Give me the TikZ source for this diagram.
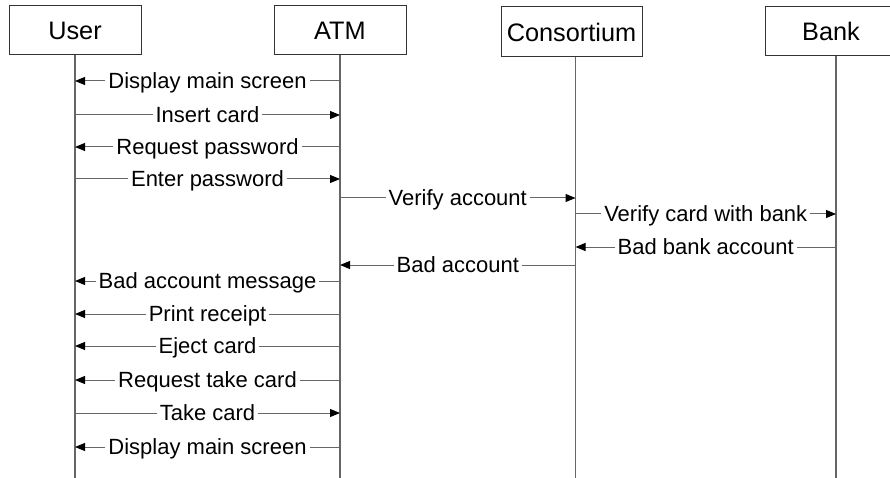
\documentclass[tikz,border=0pt]{standalone}
\usepackage{fontspec}
\setmainfont{Liberation Sans}
\usetikzlibrary{arrows.meta}
\definecolor{wire}{HTML}{666666}
\definecolor{frame}{HTML}{333333}
\begin{document}
\begin{tikzpicture}[x=1pt,y=-1pt,
  head/.style={draw=frame,line width=1pt,fill=white,minimum height=49pt,
    inner sep=0pt,font=\fontsize{25.3}{28}\selectfont},
  lifeline/.style={draw=wire,line width=1.2pt},
  msg/.style={draw=wire,line width=1pt,
    -{Triangle[length=10pt,width=8pt,color=black,fill=black]}},
  lbl/.style={fill=white,inner xsep=3pt,inner ysep=1pt,text height=15.7pt,
    text depth=0pt,font=\fontsize{22}{24}\selectfont}]
\useasboundingbox (0,0) rectangle (890,478);

% participants
\node[head,minimum width=132pt] (user) at (75,30.5) {User};
\node[head,minimum width=132pt] (atm) at (340,30.5) {ATM};
\node[head,minimum width=141pt,minimum height=50pt] (cons) at (571.5,32) {Consortium};
\node[head,minimum width=132pt] (bank) at (831,31.5) {Bank};

% lifelines
\coordinate (uL) at (user.south);
\coordinate (aL) at (atm.south);
\coordinate (cL) at ([xshift=4pt]cons.south);
\coordinate (bL) at ([xshift=5pt]bank.south);
\coordinate (uE) at (uL |- 0,478);
\coordinate (aE) at (aL |- 0,478);
\coordinate (cE) at (cL |- 0,478);
\coordinate (bE) at (bL |- 0,478);
\foreach \p in {u,a,c,b} \draw[lifeline] (\p L) -- (\p E);

% messages
\foreach \a/\b/\y/\t in {
  aL/uL/81/Display main screen,
  uL/aL/115/Insert card,
  aL/uL/147/Request password,
  uL/aL/179/Enter password,
  aL/cL/198/Verify account,
  cL/bL/214/Verify card with bank,
  bL/cL/247/Bad bank account,
  cL/aL/265/Bad account,
  aL/uL/281/Bad account message,
  aL/uL/314/Print receipt,
  aL/uL/346/Eject card,
  aL/uL/380/Request take card,
  uL/aL/413/Take card,
  aL/uL/447/Display main screen}
  \draw[msg] (\a |- 0,\y) -- (\b |- 0,\y) node[midway,lbl] {\t};
\end{tikzpicture}
\end{document}
